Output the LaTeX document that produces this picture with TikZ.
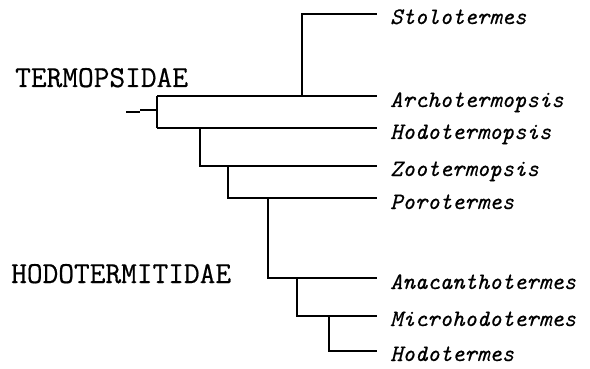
\documentclass[tikz,border=0pt]{standalone}
\usepackage{fontspec}
\setmonofont{Latin Modern Mono}[FakeBold=0.5]
\begin{document}
\begin{tikzpicture}[x=1pt,y=-1pt,
  br/.style={line width=1.4pt},
  taxon/.style={anchor=base west,inner sep=0pt,font=\ttfamily\itshape\fontsize{23.6}{26}\selectfont},
  fam/.style={anchor=base west,inner sep=0pt,font=\ttfamily\fontsize{30.5}{32}\selectfont}]
\useasboundingbox (0,0) rectangle (590,369);
% coordinates
\coordinate (r0) at (126,112);
\coordinate (r1) at (140,112);
\coordinate (r2) at (140,110);
\coordinate (n1) at (157,110);
\coordinate (n1t) at (157,96);
\coordinate (n1b) at (157,128);
\coordinate (n2) at (302,96);
\coordinate (n2t) at (302,14);
\coordinate (n3) at (200,128);
\coordinate (n3b) at (200,166);
\coordinate (n4) at (228,166);
\coordinate (n4b) at (228,198);
\coordinate (n5) at (268,198);
\coordinate (n5b) at (268,278);
\coordinate (n6) at (297,278);
\coordinate (n6b) at (297,316);
\coordinate (n7) at (329,316);
\coordinate (n7b) at (329,351);
% tips
\coordinate (t1) at (377,14);
\coordinate (t2) at (377,96);
\coordinate (t3) at (377,128);
\coordinate (t4) at (377,166);
\coordinate (t5) at (377,198);
\coordinate (t6) at (377,278);
\coordinate (t7) at (377,316);
\coordinate (t8) at (377,351);
% labels
\node[taxon] (L1) at (390,24) {Stolotermes};
\node[taxon] (L2) at (390,107) {Archotermopsis};
\node[taxon] (L3) at (390,139) {Hodotermopsis};
\node[taxon] (L4) at (390,176) {Zootermopsis};
\node[taxon] (L5) at (390,209) {Porotermes};
\node[taxon] (L6) at (390,289) {Anacanthotermes};
\node[taxon] (L7) at (390,326) {Microhodotermes};
\node[taxon] (L8) at (390,361) {Hodotermes};
\node[fam] (F1) at (15,87) {TERMOPSIDAE};
\node[fam] (F2) at (11,283) {HODOTERMITIDAE};
% branches
\draw[br] (r0) -- (r1);
\draw[br] (r2) -- (n1);
\draw[br] (n1t) -- (n1b);
\draw[br] (n1t) -- (t2);
\draw[br] (n2) -- (n2t) -- (t1);
\draw[br] (n1b) -- (t3);
\draw[br] (n3) -- (n3b) -- (t4);
\draw[br] (n4) -- (n4b) -- (t5);
\draw[br] (n5) -- (n5b) -- (t6);
\draw[br] (n6) -- (n6b) -- (t7);
\draw[br] (n7) -- (n7b) -- (t8);
\end{tikzpicture}
\end{document}
